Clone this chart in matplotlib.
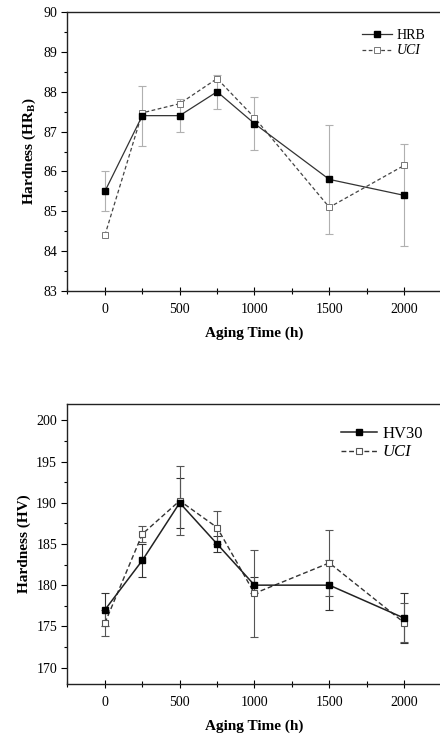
import matplotlib
matplotlib.use('Agg')
import matplotlib.pyplot as plt
from matplotlib.ticker import MultipleLocator

plt.rcParams['font.family'] = 'Liberation Serif'
plt.rcParams['mathtext.fontset'] = 'custom'
plt.rcParams['mathtext.rm'] = 'Liberation Serif'
plt.rcParams['mathtext.it'] = 'Liberation Serif:italic'
plt.rcParams['mathtext.bf'] = 'Liberation Serif:bold'

# aging times (h)
hours = [0, 250, 500, 750, 1000, 1500, 2000]

# Rockwell B hardness vs UCI
hrb = [85.5, 87.4, 87.4, 88.0, 87.2, 85.8, 85.4]
hrb_err = [0.5, 0.75, 0.42, 0.43, 0.67, 1.37, 1.28]
uci_b = [84.4, 87.47, 87.7, 88.33, 87.35, 85.1, 86.15]

# Vickers HV30 vs UCI
hv30 = [177, 183, 190, 185, 180, 180, 176]
hv30_err = [2.0, 2.0, 3.0, 1.0, 1.0, 3.0, 3.0]
uci_v = [175.4, 186.2, 190.25, 187.0, 179.0, 182.7, 175.45]
uci_v_err = [1.6, 1.0, 4.2, 2.0, 5.3, 4.0, 2.4]

fig = plt.figure(figsize=(4.4, 7.38), dpi=100)
ax1 = fig.add_axes([0.1534, 0.6057, 0.85, 0.378])
ax2 = fig.add_axes([0.1534, 0.0732, 0.85, 0.3794])


def style_axis(ax):
    ax.set_xlim(-250, 2250)
    ax.xaxis.set_major_locator(MultipleLocator(500))
    ax.xaxis.set_minor_locator(MultipleLocator(250))
    ax.tick_params(axis='x', which='major', direction='inout', length=6, width=0.8, labelsize=10, pad=6)
    ax.tick_params(axis='x', which='minor', direction='inout', length=4, width=0.8)
    ax.tick_params(axis='y', which='major', direction='out', length=4, width=0.8, labelsize=10)
    ax.tick_params(axis='y', which='minor', direction='out', length=2, width=0.8)
    for s in ax.spines.values():
        s.set_linewidth(1.0)
        s.set_color('#222222')
    ax.set_xlabel('Aging Time (h)', fontsize=11, fontweight='bold', labelpad=7)


# top panel
ax1.errorbar(hours, hrb, yerr=hrb_err, fmt='none', ecolor='#b0b0b0',
             elinewidth=0.8, capsize=3, capthick=0.8, zorder=1)
ax1.plot(hours, hrb, '-', color='#333333', lw=0.9, marker='s', ms=4.5,
         mfc='black', mec='black', label='HRB', zorder=3)
ax1.plot(hours, uci_b, '--', color='#444444', lw=0.9, dashes=(3, 2), marker='s', ms=4.5,
         mfc='white', mec='#777777', mew=0.7, label='UCI', zorder=2)
ax1.set_ylim(83, 90)
ax1.yaxis.set_major_locator(MultipleLocator(1))
ax1.yaxis.set_minor_locator(MultipleLocator(0.5))
style_axis(ax1)
ax1.set_ylabel(r'Hardness (HR$_{\mathbf{B}}$)', fontsize=11, fontweight='bold', labelpad=4)
leg1 = ax1.legend(loc='upper right', bbox_to_anchor=(0.99, 0.985), frameon=False, fontsize=10,
                  handlelength=2.2, handletextpad=0.3, labelspacing=0.2)
leg1.get_texts()[1].set_fontstyle('italic')

# bottom panel
ax2.errorbar(hours, hv30, yerr=hv30_err, fmt='none', ecolor='#333333',
             elinewidth=0.8, capsize=3, capthick=0.8, zorder=1)
ax2.errorbar(hours, uci_v, yerr=uci_v_err, fmt='none', ecolor='#555555',
             elinewidth=0.8, capsize=3, capthick=0.8, zorder=1)
ax2.plot(hours, hv30, '-', color='#222222', lw=1.1, marker='s', ms=5,
         mfc='black', mec='black', label='HV30', zorder=3)
ax2.plot(hours, uci_v, '--', color='#333333', lw=1.0, dashes=(3.5, 2), marker='s', ms=5,
         mfc='white', mec='#555555', mew=0.8, label='UCI', zorder=2)
ax2.set_ylim(168, 202)
ax2.yaxis.set_major_locator(MultipleLocator(5))
ax2.yaxis.set_minor_locator(MultipleLocator(2.5))
style_axis(ax2)
ax2.set_ylabel('Hardness (HV)', fontsize=11, fontweight='bold', labelpad=4)
leg2 = ax2.legend(loc='upper right', bbox_to_anchor=(0.99, 0.975), frameon=False, fontsize=12,
                  handlelength=2.2, handletextpad=0.3, labelspacing=0.15)
leg2.get_texts()[1].set_fontstyle('italic')

fig.savefig('out.png', dpi=100)
